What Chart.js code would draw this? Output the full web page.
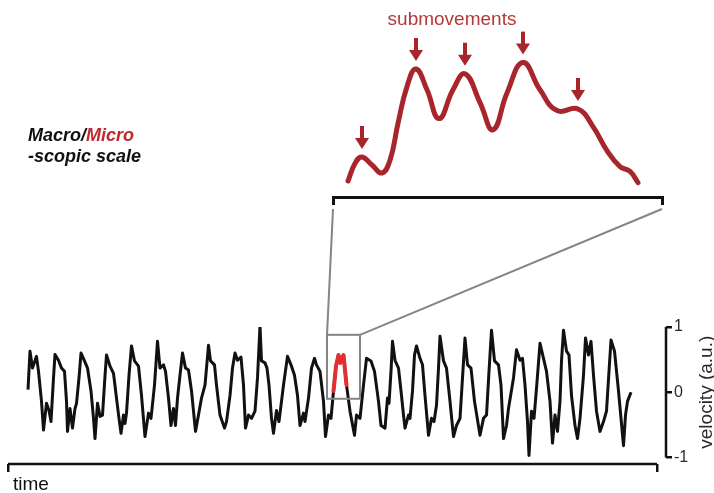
<!DOCTYPE html>
<html>
<head>
<meta charset="utf-8">
<script src="https://cdn.jsdelivr.net/npm/chart.js@4.4.1/dist/chart.umd.min.js"></script>
<style>
  html, body { margin: 0; padding: 0; background: #fff; }
  #figura { position: relative; width: 714px; height: 493px; background: #fff; }
  #figura canvas { position: absolute; left: 0; top: 0; }
  #cvInset { pointer-events: none; }
</style>
</head>
<body>
<div id="figura">
  <canvas id="cvTraza" width="714" height="493"></canvas>
  <canvas id="cvInset" width="714" height="493"></canvas>
</div>
<script>
// --- DATOS: traza macroscópica (tiempo en u.a., velocidad en u.a.) ---
const traceTime = [
  20, 22, 24.5, 28.5, 30.5, 33.5, 35.5, 38.5, 41, 43, 45.5, 47, 50.5, 53.5, 56.5, 58.5, 59.5, 62, 64.5, 67,
  68.5, 71, 73, 76.5, 79.5, 83, 85.5, 87, 89.5, 92, 94.5, 97, 98.5, 102, 105.5, 108.5, 111, 113, 115.5, 117,
  118.5, 121, 123.5, 126.5, 130.5, 133.5, 137, 140.5, 143, 146.5, 149.5, 152, 155.5, 157.5, 160.5, 163, 165.5, 167.5, 169.5, 172,
  174.5, 177.5, 180.5, 183.5, 187.5, 190.5, 193.5, 197, 200.5, 202.5, 206.5, 208.5, 212, 216.5, 218.5, 222, 224.5, 227, 229.5, 233,
  235.5, 237.5, 240.5, 243.5, 247, 249.5, 252, 253.5, 257, 259, 261, 263.5, 265.5, 268.5, 271, 275.5, 279.5, 283, 286.5, 289.5,
  292, 295.5, 297, 300.5, 303.5, 306.5, 308.5, 312, 315.5, 317.5, 320.5, 323, 325.5, 328, 330.5, 332.5, 335.5, 338.5, 342, 346.5,
  348.5, 352, 355.5, 358.5, 363, 366.5, 370.5, 373, 377, 379.5, 381, 383, 384.5, 387, 390.5, 393, 395.5, 397, 400.5, 402,
  404.5, 406.5, 408.5, 412, 414.5, 417, 420.5, 423.5, 426, 428.5, 430.5, 432, 435.5, 438.5, 442, 445.5, 448.5, 452, 454.5, 457,
  459.5, 463, 466.5, 472, 475.5, 478.5, 481, 483.5, 486.5, 490.5, 493, 495.5, 498.5, 500.5, 505.5, 508.5, 512, 514.5, 517, 519.5,
  521, 523.5, 526, 528.5, 532, 535.5, 538.5, 542, 544.5, 547, 549.5, 552, 553.5, 555.5, 558.5, 561, 563.5, 567, 569.5, 572,
  575.5, 577.5, 580.5, 583, 585.5, 588.5, 592, 595.5, 598.5, 601, 603, 606.5, 610.5, 613, 615.5, 617.5, 619.5, 623
];
const traceVelocity = [
  0.04, 0.63, 0.37, 0.55, 0.32, -0.14, -0.58, -0.17, -0.28, -0.45, 0.22, 0.58, 0.49, 0.37, 0.32, -0.14, -0.60, -0.25, -0.55, -0.25,
  -0.17, 0.22, 0.60, 0.48, 0.37, 0.02, -0.40, -0.71, -0.17, -0.37, -0.35, 0.25, 0.57, 0.40, 0.29, -0.09, -0.40, -0.63, -0.35, -0.48,
  -0.32, 0.26, 0.71, 0.48, 0.40, -0.05, -0.68, -0.32, -0.40, 0.11, 0.78, 0.37, 0.42, 0.32, -0.09, -0.51, -0.25, -0.51, -0.09, 0.26,
  0.60, 0.37, 0.34, 0.02, -0.60, -0.35, -0.09, 0.11, 0.72, 0.48, 0.42, 0.11, -0.35, -0.55, -0.45, -0.05, 0.37, 0.60, 0.49, 0.54,
  0.11, -0.55, -0.35, -0.40, -0.29, 0.22, 1.02, 0.48, 0.45, 0.37, 0.11, -0.40, -0.63, -0.28, -0.45, 0.11, 0.55, 0.42, 0.26, -0.05,
  -0.51, -0.32, -0.45, -0.09, 0.37, 0.52, 0.42, 0.32, -0.14, -0.68, -0.35, -0.40, 0.02, 0.40, 0.57, 0.45, 0.57, 0.11, -0.29, -0.66,
  -0.35, -0.40, 0.11, 0.52, 0.48, 0.32, -0.14, -0.51, -0.55, -0.09, -0.17, 0.32, 0.78, 0.49, 0.37, 0.02, -0.35, -0.55, -0.35, -0.40,
  0.02, 0.57, 0.71, 0.52, 0.42, -0.05, -0.66, -0.40, -0.45, -0.20, 0.37, 0.86, 0.48, 0.37, -0.14, -0.68, -0.51, -0.40, 0.22, 0.83,
  0.42, 0.37, -0.14, -0.66, -0.40, -0.35, 0.32, 0.95, 0.48, 0.42, 0.11, -0.71, -0.51, -0.25, 0.22, 0.65, 0.49, 0.52, 0.11, -0.45,
  -0.97, -0.29, -0.40, 0.06, 0.75, 0.52, 0.32, -0.14, -0.78, -0.35, -0.60, -0.14, 0.48, 0.95, 0.63, 0.57, -0.05, -0.51, -0.71, -0.40,
  0.26, 0.83, 0.57, 0.78, 0.26, -0.29, -0.60, -0.45, -0.29, 0.32, 0.80, 0.63, 0.02, -0.40, -0.82, -0.35, -0.14, 0.00
];

// tramo resaltado en rojo dentro de la ventana de zoom
const zoomTime = [325.5, 328, 330.5, 332.5, 335.5, 338.5];
const zoomVelocity = [0.02, 0.40, 0.57, 0.45, 0.57, 0.11];
const zoomWindowTime = [319, 352];
const zoomWindowVelocity = [-0.10, 0.88];

const velocityTicks = [-1, 0, 1];
const timeTicks = [0, 649];

// --- DATOS: curva microscópica (submovimientos) ---
const insetTime = [15, 22, 29, 39, 49, 57, 65, 74, 83, 94, 106, 120, 132, 147, 160, 174, 190, 207, 224, 245, 260, 274, 287, 297, 305];
const insetVelocity = [0.10, 0.21, 0.25, 0.20, 0.15, 0.23, 0.46, 0.69, 0.80, 0.67, 0.49, 0.67, 0.77, 0.59, 0.42, 0.65, 0.84, 0.67, 0.54, 0.55, 0.44, 0.29, 0.19, 0.16, 0.09];
const insetTicks = [0, 329];
const submovementPeaks = [29, 83, 132, 190, 245];

const NEGRO = '#111111';
const ROJO = '#a8262b';
const GRIS = '#858585';
const FUENTE = "'Liberation Sans', Arial, sans-serif";

Chart.defaults.font.family = FUENTE;

// --- GRÁFICO SUPERIOR: ampliación con flechas ---
const flechasPlugin = {
    id: 'flechas',
    afterDatasetsDraw(chart) {
        const ctx = chart.ctx;
        const meta = chart.getDatasetMeta(0);
        ctx.save();
        ctx.fillStyle = ROJO;
        ctx.strokeStyle = ROJO;
        submovementPeaks.forEach(t => {
            const pt = meta.data[insetTime.indexOf(t)];
            const tip = pt.y - 8;
            ctx.lineWidth = 4;
            ctx.beginPath();
            ctx.moveTo(pt.x, tip - 23);
            ctx.lineTo(pt.x, tip - 8);
            ctx.stroke();
            ctx.beginPath();
            ctx.moveTo(pt.x - 7, tip - 11);
            ctx.lineTo(pt.x + 7, tip - 11);
            ctx.lineTo(pt.x, tip);
            ctx.closePath();
            ctx.fill();
        });
        ctx.fillStyle = '#b33a3a';
        ctx.font = '19px ' + FUENTE;
        ctx.textAlign = 'center';
        ctx.textBaseline = 'alphabetic';
        ctx.fillText('submovements', chart.chartArea.left + 119, chart.chartArea.top - 12);
        ctx.restore();
    }
};

const chartInset = new Chart(document.getElementById('cvInset'), {
    type: 'line',
    data: {
        datasets: [{
            data: insetTime.map((t, i) => ({ x: t, y: insetVelocity[i] })),
            borderColor: ROJO,
            borderWidth: 5,
            borderCapStyle: 'round',
            pointRadius: 0,
            tension: 0.45
        }]
    },
    options: {
        responsive: false,
        animation: false,
        events: [],
        layout: { padding: { left: 333, right: 52, top: 37, bottom: 286 } },
        plugins: { legend: { display: false }, tooltip: { enabled: false } },
        scales: {
            x: {
                type: 'linear', min: insetTicks[0], max: insetTicks[1],
                afterBuildTicks: s => { s.ticks = insetTicks.map(v => ({ value: v })); },
                afterFit: s => { s.height = 10; },
                grid: { drawOnChartArea: false, tickLength: 8, color: NEGRO, lineWidth: 3 },
                border: { display: true, color: NEGRO, width: 3 },
                ticks: { display: false }
            },
            y: { type: 'linear', min: 0, max: 1, display: false }
        }
    },
    plugins: [flechasPlugin]
});

// --- GRÁFICO INFERIOR: traza completa ---
const escalaPlugin = {
    id: 'escala',
    afterDraw(chart) {
        const { ctx, chartArea } = chart;
        const x = chart.scales.x, y = chart.scales.y;
        ctx.save();

        // eje de tiempo y corchete de velocidad
        ctx.strokeStyle = NEGRO;
        ctx.lineWidth = 2.5;
        ctx.beginPath();
        ctx.moveTo(x.getPixelForValue(timeTicks[0]), chartArea.bottom);
        ctx.lineTo(x.getPixelForValue(timeTicks[1]), chartArea.bottom);
        ctx.moveTo(chartArea.right, y.getPixelForValue(velocityTicks[2]));
        ctx.lineTo(chartArea.right, y.getPixelForValue(velocityTicks[0]));
        ctx.stroke();

        ctx.fillStyle = NEGRO;
        ctx.font = '19px ' + FUENTE;
        ctx.textAlign = 'left';
        ctx.textBaseline = 'alphabetic';
        ctx.fillText('time', x.getPixelForValue(timeTicks[0]) + 5, chartArea.bottom + 26);

        // título vertical (de abajo hacia arriba)
        ctx.translate(chartArea.right + 41, y.getPixelForValue(0));
        ctx.rotate(-Math.PI / 2);
        ctx.fillStyle = '#2a2a2a';
        ctx.textAlign = 'center';
        ctx.textBaseline = 'middle';
        ctx.fillText('velocity (a.u.)', 0, 0);
        ctx.setTransform(1, 0, 0, 1, 0, 0);

        // ventana de zoom y líneas hacia la ampliación
        const bx0 = x.getPixelForValue(zoomWindowTime[0]);
        const bx1 = x.getPixelForValue(zoomWindowTime[1]);
        const by0 = y.getPixelForValue(zoomWindowVelocity[1]);
        const by1 = y.getPixelForValue(zoomWindowVelocity[0]);
        ctx.strokeStyle = GRIS;
        ctx.lineWidth = 2;
        ctx.strokeRect(bx0, by0, bx1 - bx0, by1 - by0);
        const ia = chartInset.chartArea;
        ctx.beginPath();
        ctx.moveTo(bx0, by0);
        ctx.lineTo(ia.left, ia.bottom + 12);
        ctx.moveTo(bx1, by0);
        ctx.lineTo(ia.right, ia.bottom + 12);
        ctx.stroke();

        // rótulo Macro/Micro
        ctx.font = 'italic bold 18px ' + FUENTE;
        ctx.textAlign = 'left';
        ctx.textBaseline = 'alphabetic';
        ctx.fillStyle = NEGRO;
        ctx.fillText('Macro/', 28, 141);
        const w = ctx.measureText('Macro/').width;
        ctx.fillStyle = '#c0282f';
        ctx.fillText('Micro', 28 + w, 141);
        ctx.fillStyle = NEGRO;
        ctx.fillText('-scopic scale', 28, 162);
        ctx.restore();
    }
};

const chartTraza = new Chart(document.getElementById('cvTraza'), {
    type: 'line',
    data: {
        datasets: [
            {
                // el tramo rojo va primero (order 0) para quedar encima de la traza negra
                data: zoomTime.map((t, i) => ({ x: t, y: zoomVelocity[i] })),
                borderColor: '#e0302f',
                borderWidth: 4,
                borderJoinStyle: 'round',
                borderCapStyle: 'round',
                pointRadius: 0,
                tension: 0,
                order: 0
            },
            {
                data: traceTime.map((t, i) => ({ x: t, y: traceVelocity[i] })),
                borderColor: NEGRO,
                borderWidth: 3,
                borderJoinStyle: 'round',
                pointRadius: 0,
                tension: 0,
                order: 1
            }
        ]
    },
    options: {
        responsive: false,
        animation: false,
        events: [],
        layout: { padding: { left: 8, top: 327, right: 0, bottom: 0 } },
        plugins: { legend: { display: false }, tooltip: { enabled: false } },
        scales: {
            x: {
                type: 'linear', min: 0, max: 658,
                afterBuildTicks: s => { s.ticks = timeTicks.map(v => ({ value: v })); },
                afterFit: s => { s.height = 29; },
                grid: { drawOnChartArea: false, tickLength: 8, color: NEGRO, lineWidth: 2.5 },
                border: { display: false },
                ticks: { display: false }
            },
            y: {
                type: 'linear', min: -1.1, max: 1, position: 'right',
                afterBuildTicks: s => { s.ticks = velocityTicks.map(v => ({ value: v })); },
                afterFit: s => { s.width = 48; },
                grid: { drawOnChartArea: false, tickLength: 6, color: NEGRO, lineWidth: 2.5 },
                border: { display: false },
                ticks: { color: '#2a2a2a', font: { size: 16 }, padding: 2 }
            }
        }
    },
    plugins: [escalaPlugin]
});
</script>
</body>
</html>
